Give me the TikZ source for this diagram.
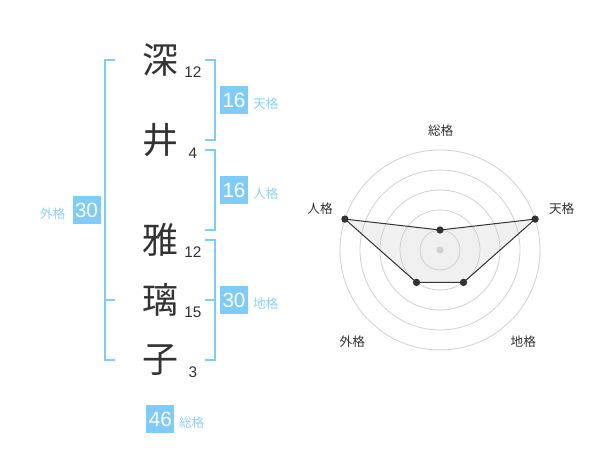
\documentclass[tikz,border=0pt]{standalone}
\usepackage{fontspec}
\setmainfont{Liberation Sans}
\newfontfamily\cjk{Noto Sans CJK JP}
\definecolor{kakublue}{RGB}{127,203,250}
\definecolor{kakulabel}{RGB}{143,208,248}
\definecolor{ringgray}{RGB}{208,208,208}
\definecolor{inkgray}{RGB}{51,51,51}
\definecolor{areagray}{RGB}{240,240,240}

\tikzset{every picture/.style={line width=0.75pt}}
\tikzset{
  kanji/.style={text=inkgray, font=\cjk\fontsize{27}{27}\selectfont, inner sep=0},
  strokes/.style={text=inkgray, font=\fontsize{11.5}{12}\selectfont, inner sep=0},
  kakubox/.style={fill=kakublue, text=white, minimum size=21pt, inner sep=0, font=\fontsize{15.5}{16}\selectfont},
  kakuname/.style={text=kakulabel, font=\cjk\fontsize{9.5}{10}\selectfont, inner sep=0},
  bracket/.style={draw=kakublue, line width=1.5pt},
  axisname/.style={text=inkgray, font=\cjk\fontsize{9.5}{10}\selectfont, inner sep=0},
  ring/.style={draw=ringgray, line width=0.6pt},
  score/.style={circle, fill=inkgray, inner sep=0, minimum size=5.5pt},
}

\begin{document}
\begin{tikzpicture}[x=0.75pt,y=0.75pt,yscale=-1,xscale=1]
	\useasboundingbox (0,0) rectangle (600,470); %diagram is 600 by 470

	%Name characters
	\node[kanji] (fuka) at (160,60) {深};
	\node[kanji] (i) at (160,140) {井};
	\node[kanji] (ma) at (160,240) {雅};
	\node[kanji] (ri) at (160,300) {璃};
	\node[kanji] (ko) at (160,360) {子};
	%Stroke counts
	\node[strokes] (fukan) at (193,72) {12};
	\node[strokes] (in) at (193,153) {4};
	\node[strokes] (man) at (193,252) {12};
	\node[strokes] (rin) at (193,312) {15};
	\node[strokes] (kon) at (193,372) {3};

	%Straight Lines: outer bracket
	\draw[bracket] (115,60) -- (105,60) -- (105,360) -- (115,360) ;
	\draw[bracket] (105,300) -- (115,300) ;
	%Straight Lines: right brackets
	\draw[bracket] (205,60) -- (215,60) -- (215,140) -- (205,140) ;
	\draw[bracket] (205,150) -- (215,150) -- (215,230) -- (205,230) ;
	\draw[bracket] (205,240) -- (215,240) -- (215,360) -- (205,360) ;
	\draw[bracket] (205,300) -- (215,300) ;

	%Kaku boxes
	\node[kakubox] (tenbox) at (234,100) {16};
	\node[kakuname] (tenname) at (265.7,104) {天格};
	\node[kakubox] (jinbox) at (234,190) {16};
	\node[kakuname] (jinname) at (265.7,193.5) {人格};
	\node[kakubox] (chibox) at (234,300) {30};
	\node[kakuname] (chiname) at (265.7,304) {地格};
	\node[kakubox] (gaibox) at (86.5,210) {30};
	\node[kakuname] (gainame) at (52.7,213.5) {外格};
	\node[kakubox] (soubox) at (160.3,419) {46};
	\node[kakuname] (souname) at (191.7,422.5) {総格};

	%Chart points
	\coordinate (sou) at (440,230) ;
	\coordinate (ten) at (535.1,219.1) ;
	\coordinate (chi) at (463.5,282.4) ;
	\coordinate (gai) at (416.5,282.4) ;
	\coordinate (jin) at (344.9,219.1) ;
	%Shape: Polygon area
	\fill[areagray] (sou) -- (ten) -- (chi) -- (gai) -- (jin) -- cycle ;

	%Shape: Circles of the chart
	\foreach \r in {20,40,...,100} \draw[ring] (440,250) circle [radius=\r] ;
	\fill[ringgray] (440,250) circle [radius=3.5] ;

	%Shape: Polygon outline
	\draw[inkgray] (sou) -- (ten) -- (chi) -- (gai) -- (jin) -- cycle ;
	\foreach \p in {sou,ten,chi,gai,jin} \node[score] (\p dot) at (\p) {};

	%Chart labels
	\node[axisname] (soulabel) at (440.7,130.7) {総格};
	\node[axisname] (tenlabel) at (561.7,208.3) {天格};
	\node[axisname] (jinlabel) at (320,208.3) {人格};
	\node[axisname] (gailabel) at (352.3,341.7) {外格};
	\node[axisname] (chilabel) at (523.3,341.7) {地格};

\end{tikzpicture}
\end{document}
